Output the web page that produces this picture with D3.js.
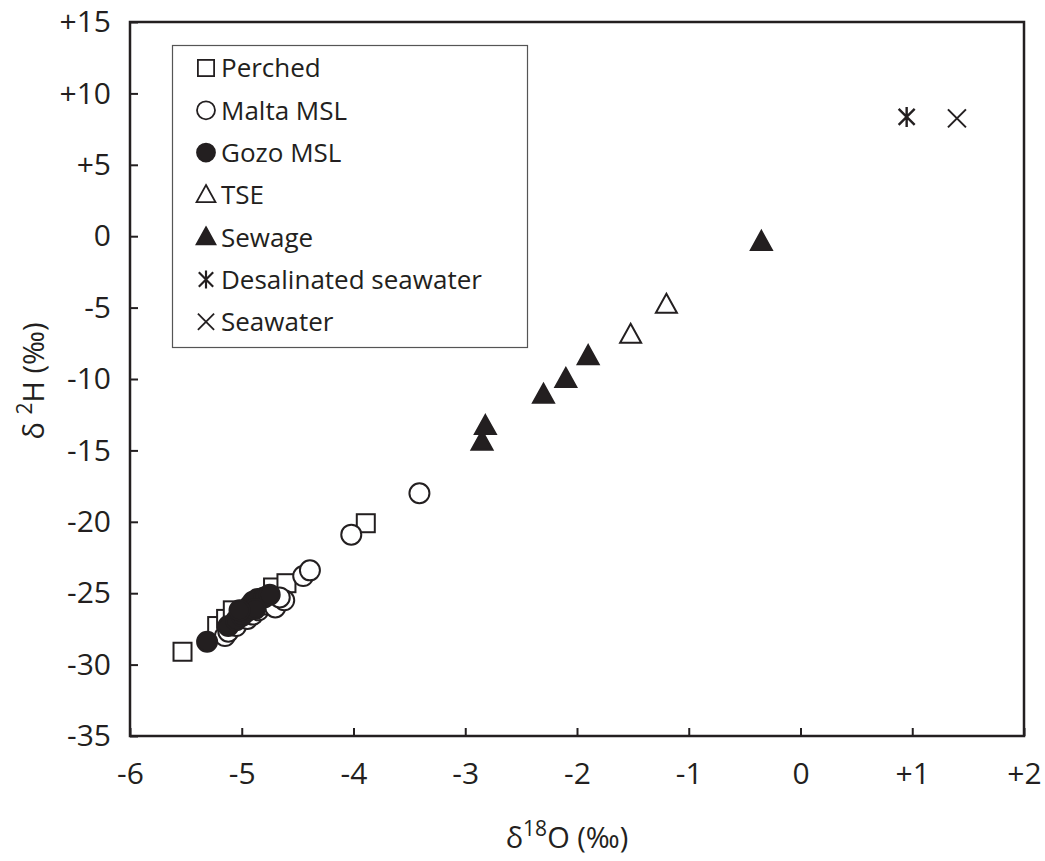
<!DOCTYPE html>
<html><head><meta charset="utf-8">
<script src="https://cdn.jsdelivr.net/npm/d3@7"></script>
<style>body{margin:0;background:#fff}svg{display:block}</style>
</head><body><svg id="c" width="1045" height="861"></svg>
<script>
const seriesNames = ["Perched","Malta MSL","Gozo MSL","TSE","Sewage","Desalinated seawater","Seawater"];
const perched = [[-5.53,-29.1],[-5.22,-27.3],[-5.14,-26.8],[-5.08,-26.2],[-4.72,-24.6],[-4.6,-24.3],[-3.89,-20.1]];
const maltaMSL = [[-5.15,-28.0],[-5.12,-27.7],[-5.05,-27.3],[-4.95,-26.8],[-4.9,-26.5],[-4.85,-26.2],[-4.8,-25.8],[-4.7,-26.0],[-4.62,-25.5],[-4.66,-25.3],[-4.45,-23.8],[-4.39,-23.4],[-4.02,-20.9],[-3.41,-18.0]];
const gozoMSL = [[-5.31,-28.4],[-5.12,-27.3],[-5.05,-26.9],[-5.0,-26.6],[-4.96,-26.3],[-4.93,-25.9],[-4.9,-25.6],[-4.86,-25.4],[-4.8,-25.3],[-4.75,-25.1],[-4.88,-26.1],[-5.02,-26.2]];
const tse = [[-1.52,-6.9],[-1.2,-4.8]];
const sewage = [[-2.85,-14.4],[-2.82,-13.3],[-2.3,-11.1],[-2.1,-10.0],[-1.9,-8.4],[-0.35,-0.4]];
const desal = [[0.95,8.35]];
const seawater = [[1.4,8.25]];
const xTicks = [-6,-5,-4,-3,-2,-1,0,1,2];
const yTicks = [15,10,5,0,-5,-10,-15,-20,-25,-30,-35];

const svg = d3.select("#c");
const X0=130, X1=1024, Y0=22, Y1=736;
const x = d3.scaleLinear().domain([-6,2]).range([X0,X1]);
const y = d3.scaleLinear().domain([-35,15]).range([Y1,Y0]);
const ink = "#231f20";
const font = "'Open Sans', 'Noto Sans', sans-serif";
const fmt = v => v>0 ? "+"+v : String(v);

// axes
const xAxis = d3.axisBottom(x).tickValues(xTicks).tickSizeInner(-8).tickSizeOuter(0).tickPadding(27).tickFormat(fmt);
const yAxis = d3.axisLeft(y).tickValues(yTicks).tickSizeInner(-8).tickSizeOuter(0).tickPadding(19).tickFormat(fmt);
const gx = svg.append("g").attr("transform",`translate(0,${Y1})`).call(xAxis);
const gy = svg.append("g").attr("transform",`translate(${X0},0)`).call(yAxis);
[gx,gy].forEach(g=>{
  g.select(".domain").remove();
  g.selectAll(".tick line").attr("stroke",ink).attr("stroke-width",2);
  g.selectAll(".tick text").attr("fill",ink).style("font-family",font).style("font-size","30px");
});
gx.selectAll(".tick text").attr("dy","0.71em");
// frame
svg.append("rect").attr("x",X0).attr("y",Y0).attr("width",X1-X0).attr("height",Y1-Y0)
  .attr("fill","none").attr("stroke",ink).attr("stroke-width",2.5);

// axis titles
const xt = svg.append("text").attr("x",567).attr("y",848).attr("text-anchor","middle")
  .attr("fill",ink).style("font-family",font).style("font-size","29px");
xt.append("tspan").text("δ");
xt.append("tspan").text("18").attr("dy","-12").style("font-size","21px");
xt.append("tspan").text("O (‰)").attr("dy","12");
const yt = svg.append("text").attr("transform",`translate(44,${(Y0+Y1)/2+2}) rotate(-90)`).attr("text-anchor","middle")
  .attr("fill",ink).style("font-family",font).style("font-size","29px");
yt.append("tspan").text("δ ");
yt.append("tspan").text("2").attr("dy","-12").style("font-size","21px");
yt.append("tspan").text("H (‰)").attr("dy","12");

// symbols
function drawSym(g, type, cx, cy){
  const s = g.append("g").attr("transform",`translate(${cx},${cy})`);
  if(type==="square") s.append("rect").attr("x",-9).attr("y",-9).attr("width",18).attr("height",18).attr("fill","#fff").attr("stroke",ink).attr("stroke-width",2);
  else if(type==="ocircle") s.append("circle").attr("r",10).attr("fill","#fff").attr("stroke",ink).attr("stroke-width",2);
  else if(type==="fcircle") s.append("circle").attr("r",10).attr("fill",ink).attr("stroke",ink).attr("stroke-width",2);
  else if(type==="otri"||type==="ftri") s.append("path").attr("d","M0,-11 L10.5,8 L-10.5,8 Z").attr("fill",type==="otri"?"#fff":ink).attr("stroke",ink).attr("stroke-width",2).attr("stroke-linejoin","miter");
  else if(type==="star"){ s.append("path").attr("d","M-8,-8 L8,8 M-8,8 L8,-8 M0,-10 L0,10").attr("stroke",ink).attr("stroke-width",2.4); }
  else if(type==="cross"){ s.append("path").attr("d","M-9,-9 L9,9 M-9,9 L9,-9").attr("stroke",ink).attr("stroke-width",2); }
}
const series = [
  {name:seriesNames[0], data:perched, type:"square"},
  {name:seriesNames[1], data:maltaMSL, type:"ocircle"},
  {name:seriesNames[2], data:gozoMSL, type:"fcircle"},
  {name:seriesNames[3], data:tse, type:"otri"},
  {name:seriesNames[4], data:sewage, type:"ftri"},
  {name:seriesNames[5], data:desal, type:"star"},
  {name:seriesNames[6], data:seawater, type:"cross"}
];
const pts = svg.append("g");
series.forEach(se=>{
  const g = pts.append("g");
  se.data.forEach(d=>drawSym(g, se.type, x(d[0]), y(d[1])));
});

// legend
const lg = svg.append("g");
lg.append("rect").attr("x",172.5).attr("y",45.5).attr("width",355).attr("height",302).attr("fill","#fff").attr("stroke","#555").attr("stroke-width",1.2);
series.forEach((se,i)=>{
  const cy = 68 + i*42.3;
  const g = lg.append("g").attr("transform","translate(206,"+cy+") scale(0.9)");
  drawSym(g, se.type, 0, 0);
  lg.append("text").attr("x",221).attr("y",cy).attr("dy","0.36em").attr("fill",ink)
    .style("font-family",font).style("font-size","26px").text(se.name);
});
</script></body></html>
